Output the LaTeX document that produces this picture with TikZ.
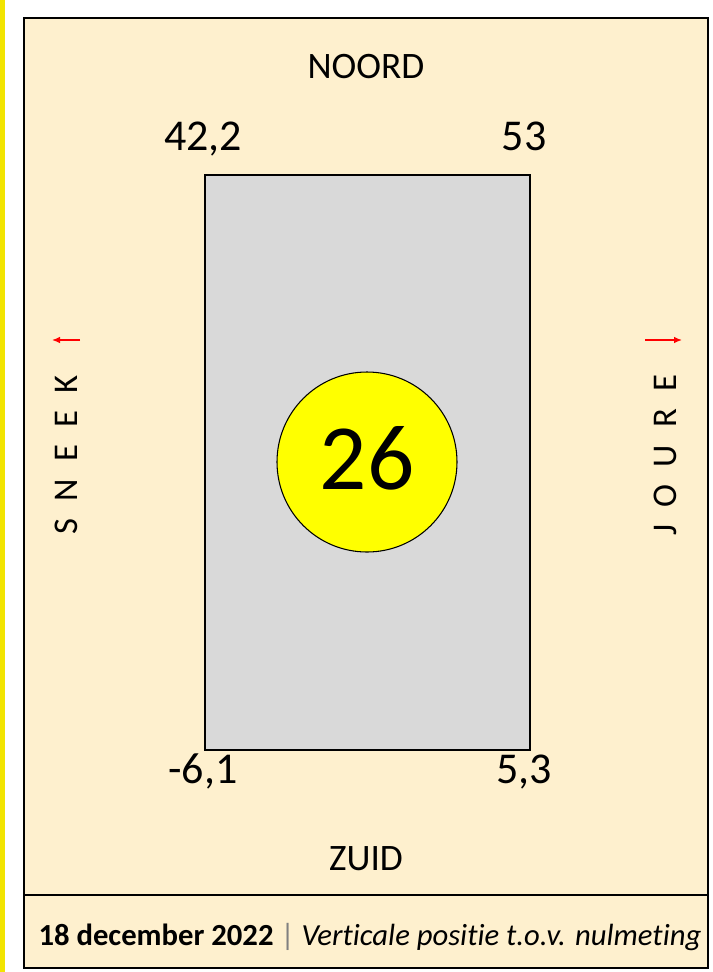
\documentclass[tikz,border=0pt]{standalone}
\usepackage{fontspec}
\setmainfont[Ligatures=NoCommon]{Carlito}
\usetikzlibrary{arrows.meta,positioning}
\definecolor{cream}{HTML}{FEF0CE}
\definecolor{plategrey}{HTML}{D9D9D9}
\definecolor{markyellow}{HTML}{FFFF00}
\definecolor{edgeyellow}{HTML}{F2E400}
\tikzset{
  compass/.style={anchor=base,inner sep=0pt,font=\fontsize{28}{30}\selectfont},
  corner/.style={anchor=base,inner sep=0pt,font=\fontsize{33}{36}\selectfont},
  town/.style={rotate=90,inner sep=0pt,font=\fontsize{26}{28}\selectfont\addfontfeature{LetterSpace=50}},
  dirarrow/.style={red,line width=1pt,-{Latex[length=6pt,width=5pt]}}
}

\begin{document}
\begin{tikzpicture}[x=0.75pt,y=-0.75pt]
  % canvas
  \useasboundingbox (0,0) rectangle (713,972);
  \fill[white] (0,0) rectangle (713,972);
  \fill[edgeyellow] (0,0) rectangle (5,972);

  % frame and footer line
  \draw[fill=cream,line width=1.2pt] (24,18) rectangle (708,968);
  \draw[line width=1.2pt] (24,895) -- (708,895);

  % plate with value
  \draw[fill=plategrey,line width=0.8pt] (205,175) rectangle (530,750);
  \node[circle,draw,fill=markyellow,line width=0.8pt,minimum size=135pt,inner sep=0pt] (value) at (367,462) {};
  \node[anchor=base,inner sep=0pt,font=\fontsize{70}{76}\selectfont] (valtext) at (367,489) {26};

  % directions
  \node[compass] (noord) at (366,78) {NOORD};
  \node[compass] (zuid) at (366,870) {ZUID};
  \node[town] (sneek) at (66,455) {SNEEK};
  \node[town] (joure) at (665,455) {JOURE};

  % corner readings
  \node[corner] (nw) at (203,150) {42,2};
  \node[corner] (ne) at (524,150) {53};
  \node[corner] (sw) at (203,783) {-6,1};
  \node[corner] (se) at (524,783) {5,3};

  % arrows
  \coordinate (sneekfrom) at (80,340);
  \coordinate (sneekto) at (52,340);
  \coordinate (jourefrom) at (645,340);
  \coordinate (joureto) at (682,340);
  \draw[dirarrow] (sneekfrom) -- (sneekto);
  \draw[dirarrow] (jourefrom) -- (joureto);

  % footer
  \node[anchor=base,inner sep=0pt,font=\fontsize{23}{26}\selectfont] (footer) at (370,945)
    {\textbf{18 december 2022} \textcolor{gray}{|} \textit{Verticale positie t.o.v. nulmeting}};
\end{tikzpicture}
\end{document}
